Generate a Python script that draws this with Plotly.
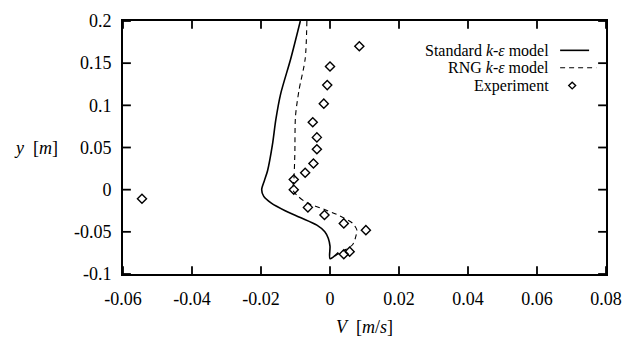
import plotly.graph_objects as go

# Standard k-epsilon model (solid)
std_v = [-0.0086, -0.0114, -0.0143, -0.0157, -0.0167, -0.0181, -0.0190, -0.0198, -0.0192,
         -0.0170, -0.0130, -0.0086, -0.0038, -0.0015, -0.0005, 0.0, 0.0, 0.0024]
std_y = [0.200, 0.155, 0.1136, 0.083, 0.053, 0.0224, 0.011, 0.0, -0.008,
         -0.016, -0.025, -0.033, -0.042, -0.0498, -0.0575, -0.067, -0.082, -0.0745]

# RNG k-epsilon model (dashed)
rng_v = [-0.0067, -0.0072, -0.0090, -0.0100, -0.0102, -0.0105, -0.0108, -0.0095, -0.0067,
         -0.0019, 0.0028, 0.0066, 0.0078, 0.0076, 0.0066, 0.0038, 0.0008, 0.0]
rng_y = [0.200, 0.155, 0.1175, 0.087, 0.041, 0.010, 0.000, -0.007, -0.0156,
         -0.023, -0.031, -0.040, -0.048, -0.0536, -0.065, -0.0727, -0.080, -0.082]

# Experiment (diamonds)
exp_v = [0.0085, 0.0000, -0.0008, -0.0018, -0.0050, -0.0038, -0.0038, -0.0048, -0.0072,
         -0.0105, -0.0105, -0.0064, -0.0016, 0.0040, 0.0104, 0.0057, 0.0040, -0.0545]
exp_y = [0.170, 0.146, 0.124, 0.102, 0.080, 0.062, 0.048, 0.031, 0.020,
         0.012, 0.000, -0.021, -0.030, -0.040, -0.048, -0.0735, -0.0765, -0.0107]

x_ticks = [-0.06, -0.04, -0.02, 0, 0.02, 0.04, 0.06, 0.08]
x_labels = ["-0.06", "-0.04", "-0.02", "0", "0.02", "0.04", "0.06", "0.08"]
y_ticks = [-0.1, -0.05, 0, 0.05, 0.1, 0.15, 0.2]
y_labels = ["-0.1", "-0.05", "0", "0.05", "0.1", "0.15", "0.2"]

legend_names = ["Standard <i>k</i>-<i>ε</i> model", "RNG <i>k</i>-<i>ε</i> model", "Experiment"]

X_RANGE = [-0.06, 0.08]
Y_RANGE = [-0.1, 0.2]
FONT = "Liberation Serif"
FS = 18
LFS = 16
PW, PH = 491, 263   # plot-area size in px
TL = 8              # tick length in px

fig = go.Figure()
fig.add_trace(go.Scatter(x=std_v, y=std_y, mode="lines",
                         line=dict(color="black", width=1.6, shape="spline", smoothing=0.8),
                         showlegend=False))
fig.add_trace(go.Scatter(x=rng_v, y=rng_y, mode="lines",
                         line=dict(color="black", width=1.1, dash="5px,4px",
                                   shape="spline", smoothing=0.8),
                         showlegend=False))
fig.add_trace(go.Scatter(x=exp_v, y=exp_y, mode="markers",
                         marker=dict(symbol="diamond-open", size=7, color="black",
                                     line=dict(width=1.4, color="black")),
                         showlegend=False))

# inward tick marks on all four sides (axis decoration, in paper coords)
tick_line = dict(color="black", width=1.8)
for v in x_ticks:
    px = (v - X_RANGE[0]) / (X_RANGE[1] - X_RANGE[0])
    fig.add_shape(type="line", xref="paper", yref="paper", x0=px, x1=px, y0=0, y1=TL / PH,
                  line=tick_line, layer="above")
    fig.add_shape(type="line", xref="paper", yref="paper", x0=px, x1=px, y0=1 - TL / PH, y1=1,
                  line=tick_line, layer="above")
for v in y_ticks:
    py = (v - Y_RANGE[0]) / (Y_RANGE[1] - Y_RANGE[0])
    fig.add_shape(type="line", xref="paper", yref="paper", y0=py, y1=py, x0=0, x1=TL / PW,
                  line=tick_line, layer="above")
    fig.add_shape(type="line", xref="paper", yref="paper", y0=py, y1=py, x0=1 - TL / PW, x1=1,
                  line=tick_line, layer="above")

# custom legend (symbols on the right of text)
leg_y = [0.884, 0.815, 0.745]
for name, ly in zip(legend_names, leg_y):
    fig.add_annotation(xref="paper", yref="paper", x=0.887, y=ly, text=name,
                       showarrow=False, xanchor="right", yanchor="middle",
                       font=dict(family=FONT, size=LFS, color="black"))
fig.add_shape(type="line", xref="paper", yref="paper", x0=0.905, x1=0.965,
              y0=leg_y[0], y1=leg_y[0], line=dict(color="black", width=1.6))
fig.add_shape(type="line", xref="paper", yref="paper", x0=0.905, x1=0.98,
              y0=leg_y[1], y1=leg_y[1], line=dict(color="black", width=1.1, dash="5px,4px"))
cx, cy, dx, dy = 0.93, leg_y[2], 3.5 / PW, 3.5 / PH
fig.add_shape(type="path", xref="paper", yref="paper",
              path=f"M {cx-dx} {cy} L {cx} {cy+dy} L {cx+dx} {cy} L {cx} {cy-dy} Z",
              line=dict(color="black", width=1.4))

axis_common = dict(showline=True, linecolor="black", linewidth=1.6, mirror=True,
                   ticks="", showgrid=False, zeroline=False,
                   tickfont=dict(family=FONT, size=FS, color="black"))

fig.update_layout(
    width=633, height=346,
    margin=dict(l=123, r=19, t=11, b=72),
    paper_bgcolor="white", plot_bgcolor="white",
    xaxis=dict(range=X_RANGE, tickmode="array", tickvals=x_ticks, ticktext=x_labels,
               ticklabelstandoff=8, **axis_common),
    yaxis=dict(range=Y_RANGE, tickmode="array", tickvals=y_ticks, ticktext=y_labels,
               ticklabelstandoff=6, **axis_common),
    showlegend=False,
)
fig.add_annotation(xref="paper", yref="paper", x=0.50, y=-0.21, yanchor="middle",
                   text="<i>V</i>  [<i>m</i>/<i>s</i>]", showarrow=False,
                   font=dict(family=FONT, size=FS, color="black"))
fig.add_annotation(xref="paper", yref="paper", x=-0.18, y=0.50, xanchor="center",
                   yanchor="middle", text="<i>y</i>  [<i>m</i>]", showarrow=False,
                   font=dict(family=FONT, size=FS, color="black"))

fig.write_html("out.html")
